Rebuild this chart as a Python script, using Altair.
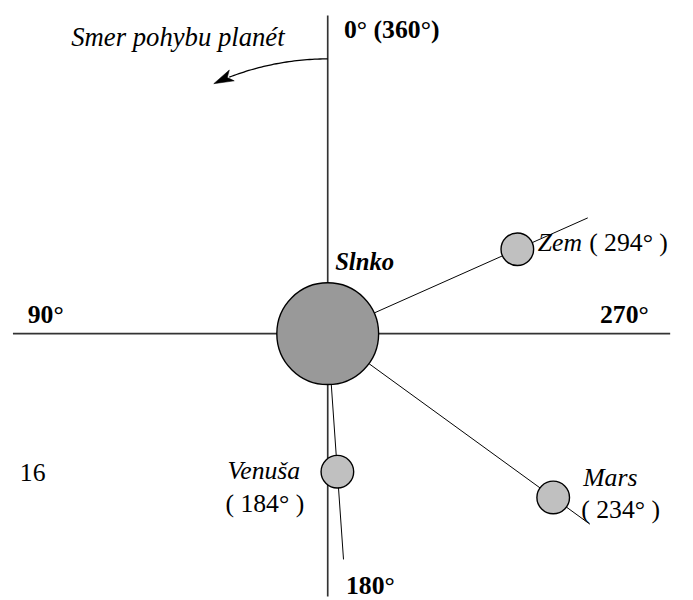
import altair as alt
import numpy as np
import pandas as pd

# ---------------- data ----------------
planets = ["Zem", "Mars", "Venuša"]
angles = [294, 234, 184]           # degrees, 0 at top, counter-clockwise
orbit_dist = [210, 282, 140]       # distance of planet from the Sun (drawing units)
ray_len = [288, 328, 229]          # length of the Sun-planet ray
angle_texts = ["( 294° )", "( 234° )", "( 184° )"]
axis_labels = ["0° (360°)", "90°", "180°", "270°"]
sun_name = "Slnko"
motion_text = "Smer pohybu planét"
motion_arc = [0, 21]               # arc of motion arrow (deg from top, ccw)
motion_radius = 278
page_number = "16"

# ---------------- layout ----------------
W, H = 685, 592
OX, OY = 331.5, 334.0              # Sun centre in page pixels
SUN_R = 51.5
FONT = "Liberation Serif"
FS = 26

def px(x):
    return x - OX

def py(y):
    return OY - y

xs = alt.Scale(domain=[px(8), px(8 + W)], nice=False, zero=False)
ys = alt.Scale(domain=[py(8 + H), py(8)], nice=False, zero=False)
X = lambda f: alt.X(f, type="quantitative", scale=xs, axis=None)
Y = lambda f: alt.Y(f, type="quantitative", scale=ys, axis=None)

th = np.radians(angles)
pl = pd.DataFrame({
    "name": planets,
    "x": -np.sin(th) * np.array(orbit_dist),
    "y": np.cos(th) * np.array(orbit_dist),
    "x1": -np.sin(th) * SUN_R,
    "y1": np.cos(th) * SUN_R,
    "x2": -np.sin(th) * np.array(ray_len),
    "y2": np.cos(th) * np.array(ray_len),
})

axes_df = pd.DataFrame({
    "x": [0.0, px(13)], "x2": [0.0, px(678)],
    "y": [py(600), 0.0], "y2": [py(12), 0.0],
})

axis_lines = alt.Chart(axes_df).mark_rule(color="#333333", strokeWidth=1.7).encode(
    x=X("x"), x2="x2", y=Y("y"), y2="y2")

rays = alt.Chart(pl).mark_rule(color="black", strokeWidth=1).encode(
    x=X("x1"), x2="x2", y=Y("y1"), y2="y2")

sun = alt.Chart(pd.DataFrame({"x": [0.0], "y": [0.0]})).mark_point(
    shape="circle", filled=True, fill="#999999", stroke="black",
    strokeWidth=1.4, size=(2 * SUN_R) ** 2, opacity=1).encode(x=X("x"), y=Y("y"))

planet_pts = alt.Chart(pl).mark_point(
    shape="circle", filled=True, fill="#c0c0c0", stroke="black",
    strokeWidth=1.4, size=33 ** 2, opacity=1).encode(x=X("x"), y=Y("y"))

# motion arrow: arc round the Sun
a = np.radians(np.linspace(motion_arc[0], motion_arc[1], 40))
arc_df = pd.DataFrame({"x": -np.sin(a) * motion_radius, "y": np.cos(a) * motion_radius,
                       "o": np.arange(40)})
arc = alt.Chart(arc_df).mark_line(color="black", strokeWidth=1.3).encode(
    x=X("x"), y=Y("y"), order="o")
tip_deg = motion_arc[1] + 3.5
tip = np.radians(tip_deg)
head_df = pd.DataFrame({"x": [-np.sin(tip) * motion_radius], "y": [np.cos(tip) * motion_radius]})
head = alt.Chart(head_df).mark_point(
    shape="M0,0L2,-0.6L1.5,0L2,0.6Z", filled=True, fill="black", stroke="black",
    strokeWidth=0.5, size=400, opacity=1, angle=360 - tip_deg).encode(
    x=X("x"), y=Y("y"))

def texts(rows, weight="normal", style="normal", size=FS):
    df = pd.DataFrame(rows, columns=["t", "x", "y"])
    return alt.Chart(df).mark_text(
        font=FONT, fontSize=size, fontWeight=weight, fontStyle=style,
        align="left", baseline="alphabetic", color="black").encode(
        x=X("x"), y=Y("y"), text="t:N")

bold = texts([
    [axis_labels[0], px(348), py(35)],
    [axis_labels[1], px(28), py(323)],
    [axis_labels[2], px(350), py(597)],
    [axis_labels[3], px(607), py(323)],
], weight="bold")

bold_it = texts([[sun_name, px(339), py(270)]], weight="bold", style="italic", size=25)

italic = texts([
    [planets[0], px(544), py(250)],
    [planets[1], px(590), py(488)],
    [planets[2], px(230), py(481)],
], style="italic")

motion = texts([[motion_text, px(72), py(43)]], style="italic", size=27)

regular = texts([
    [angle_texts[0], px(596), py(250)],
    [angle_texts[1], px(588), py(521)],
    [angle_texts[2], px(228), py(514)],
    [page_number, px(20), py(483)],
])

chart = alt.layer(axis_lines, rays, arc, head, sun, planet_pts,
                  bold, bold_it, italic, motion, regular).properties(
    width=W, height=H, padding=0, background="white"
).configure_view(stroke=None)

chart.save("out.html", embed_options={"renderer": "svg", "actions": False})
